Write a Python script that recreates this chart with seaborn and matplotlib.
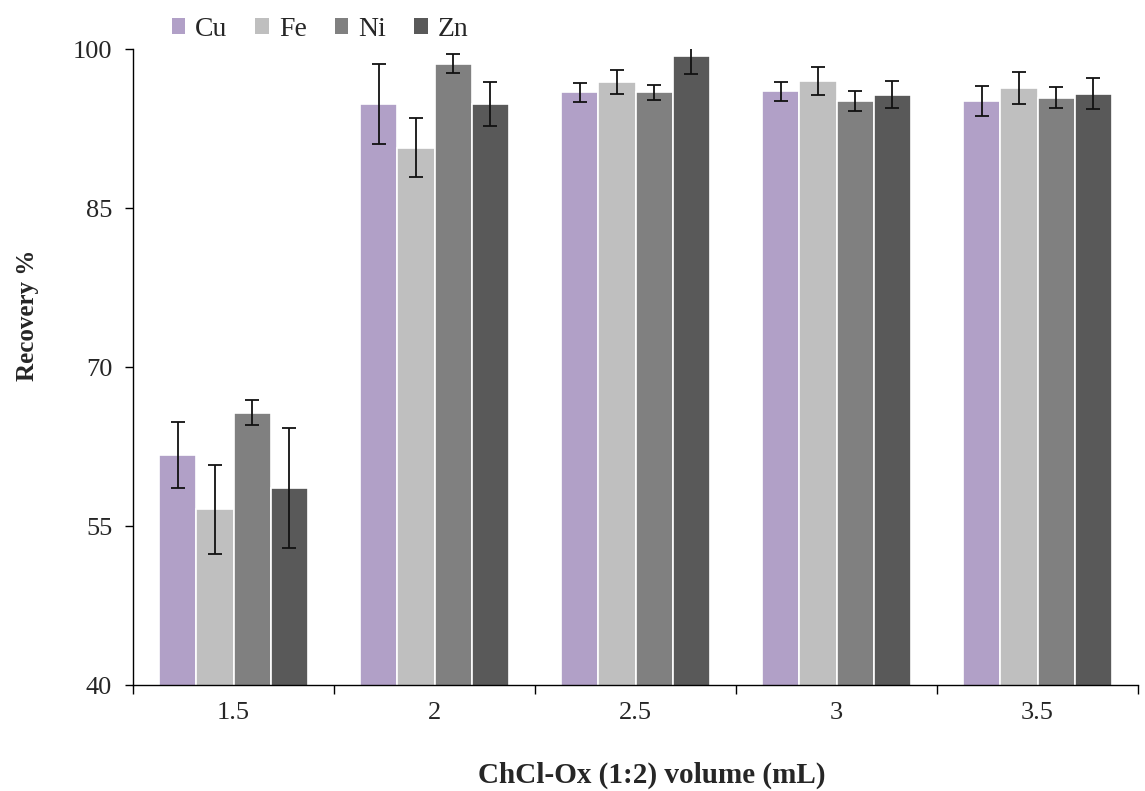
import numpy as np
import pandas as pd
import matplotlib
matplotlib.use("Agg")
import matplotlib.pyplot as plt
import seaborn as sns
from matplotlib.patches import Patch

volumes = ["1.5", "2", "2.5", "3", "3.5"]
metals = ["Cu", "Fe", "Ni", "Zn"]
cu = [61.7, 94.8, 95.9, 96.0, 95.1]
fe = [56.6, 90.7, 96.9, 97.0, 96.3]
ni = [65.7, 98.6, 95.9, 95.1, 95.4]
zn = [58.6, 94.8, 99.3, 95.7, 95.8]
cu_err = [3.1, 3.8, 0.85, 0.9, 1.45]
fe_err = [4.2, 2.8, 1.1, 1.3, 1.5]
ni_err = [1.15, 0.9, 0.7, 0.9, 1.0]
zn_err = [5.65, 2.1, 1.7, 1.3, 1.45]
colors = ["#B1A0C7", "#BFBFBF", "#808080", "#595959"]

values = {"Cu": cu, "Fe": fe, "Ni": ni, "Zn": zn}
errors = {"Cu": cu_err, "Fe": fe_err, "Ni": ni_err, "Zn": zn_err}

rows = []
for m in metals:
    for v, val, e in zip(volumes, values[m], errors[m]):
        rows.append({"volume": v, "metal": m, "recovery": val, "err": e})
df = pd.DataFrame(rows)

sns.set_theme(style="white")
plt.rcParams["font.family"] = ["Liberation Serif", "DejaVu Serif"]

fig = plt.figure(figsize=(11.45, 7.91), dpi=100)
ax = fig.add_axes([0.1162, 0.134, 0.8777, 0.804])

sns.barplot(data=df, x="volume", y="recovery", hue="metal", order=volumes,
            hue_order=metals, palette=colors, width=0.74, errorbar=None,
            edgecolor="white", linewidth=1.2, ax=ax, legend=False, saturation=1)

# error bars from bar patches
for container, m in zip(ax.containers, metals):
    xs = [p.get_x() + p.get_width() / 2 for p in container.patches]
    ax.errorbar(xs, values[m], yerr=errors[m], fmt="none", ecolor="#111111",
                elinewidth=1.3, capsize=5, capthick=1.3, zorder=5, clip_on=True)

ax.set_ylim(40, 100)
ax.set_xlim(-0.5, 4.5)
ax.set_yticks([40, 55, 70, 85, 100])
ax.set_xticks(range(len(volumes)))
ax.set_xticklabels(volumes)
ax.set_xticks(np.arange(-0.5, 4.6, 1.0), minor=True)
ax.tick_params(axis="x", which="major", length=0, labelsize=19, pad=12)
ax.tick_params(axis="x", which="minor", length=6.5, width=1, color="black", direction="out", bottom=True)
ax.tick_params(axis="y", which="major", length=6, width=1, color="black", direction="out",
               left=True, labelsize=19, pad=9)
for s in ["top", "right"]:
    ax.spines[s].set_visible(False)
for s in ["left", "bottom"]:
    ax.spines[s].set_color("black")
    ax.spines[s].set_linewidth(1)

ax.set_xlabel("ChCl-Ox (1:2) volume (mL)", fontsize=21, fontweight="bold")
ax.set_ylabel("Recovery %", fontsize=18, fontweight="bold")
ax.xaxis.set_label_coords(0.516, -0.12)
ax.yaxis.set_label_coords(-0.094, 0.582)

handles = [Patch(facecolor=c, edgecolor="none") for c in colors]
fig.legend(handles, metals, loc="upper left", bbox_to_anchor=(0.128, 1.01), ncol=4,
           frameon=False, fontsize=20, handlelength=0.5, handleheight=0.5,
           handletextpad=0.35, columnspacing=1.0)

fig.savefig("out.png", dpi=100)
